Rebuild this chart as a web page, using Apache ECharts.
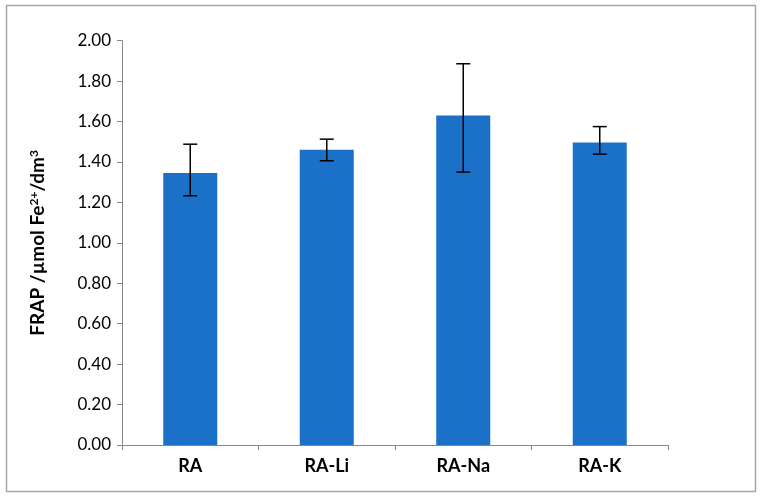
<!DOCTYPE html>
<html>
<head>
<meta charset="utf-8">
<script src="https://cdn.jsdelivr.net/npm/echarts@6/dist/echarts.min.js"></script>
<style>
html,body{margin:0;padding:0;background:#fff;}
#main{width:762px;height:499px;}
</style>
</head>
<body>
<div id="main"></div>
<script>
const categories = ['RA', 'RA-Li', 'RA-Na', 'RA-K'];
const means = [1.345, 1.460, 1.630, 1.496];
const errUpper = [1.488, 1.513, 1.886, 1.575];
const errLower = [1.233, 1.406, 1.350, 1.439];
const yTicks = { min: 0, max: 2, interval: 0.2 };

const chart = echarts.init(document.getElementById('main'));
const font = 'Lato, "Open Sans", sans-serif';
const errData = categories.map((c, i) => [i, errLower[i], errUpper[i]]);

chart.setOption({
  backgroundColor: '#fff',
  animation: false,
  graphic: [{
    type: 'rect',
    shape: { x: 6.5, y: 5.5, width: 749, height: 486 },
    style: { fill: 'none', stroke: '#a6a6a6', lineWidth: 1.5 },
    silent: true
  }],
  grid: { left: 122, right: 94, top: 40.7, bottom: 54, containLabel: false },
  xAxis: {
    type: 'category',
    data: categories,
    axisLine: { lineStyle: { color: '#868686', width: 1 } },
    axisTick: { show: true, alignWithLabel: false, length: 5, lineStyle: { color: '#868686' } },
    axisLabel: { color: '#000', fontFamily: font, fontWeight: 'bold', fontSize: 18, margin: 12 }
  },
  yAxis: {
    type: 'value',
    min: yTicks.min, max: yTicks.max, interval: yTicks.interval,
    name: '{n|FRAP /µmol Fe}{s|2+}{n|/dm}{s|3}',
    nameLocation: 'middle',
    nameGap: 74,
    nameRotate: 90,
    nameTextStyle: {
      rich: {
        n: { fontFamily: font, fontWeight: 'bold', fontSize: 19, color: '#000' },
        s: { fontFamily: font, fontWeight: 'bold', fontSize: 12, color: '#000', verticalAlign: 'top', padding: [0, 0, 8, 0] }
      }
    },
    axisLine: { show: true, lineStyle: { color: '#868686', width: 1 } },
    axisTick: { show: true, length: 5, lineStyle: { color: '#868686' } },
    splitLine: { show: false },
    axisLabel: {
      color: '#000', fontFamily: font, fontSize: 17, margin: 11,
      formatter: v => v.toFixed(2)
    }
  },
  series: [{
    type: 'bar',
    data: means,
    barWidth: 54,
    itemStyle: { color: '#1b70c8' },
    z: 2
  }, {
    type: 'custom',
    data: errData,
    z: 3,
    renderItem: function (params, api) {
      const x = api.value(0);
      const lo = api.coord([x, api.value(1)]);
      const hi = api.coord([x, api.value(2)]);
      const hw = 7;
      const st = { stroke: '#000', lineWidth: 1.5 };
      return {
        type: 'group',
        children: [
          { type: 'line', shape: { x1: lo[0], y1: lo[1], x2: hi[0], y2: hi[1] }, style: st },
          { type: 'line', shape: { x1: hi[0] - hw, y1: hi[1], x2: hi[0] + hw, y2: hi[1] }, style: st },
          { type: 'line', shape: { x1: lo[0] - hw, y1: lo[1], x2: lo[0] + hw, y2: lo[1] }, style: st }
        ]
      };
    }
  }]
});
</script>
</body>
</html>
